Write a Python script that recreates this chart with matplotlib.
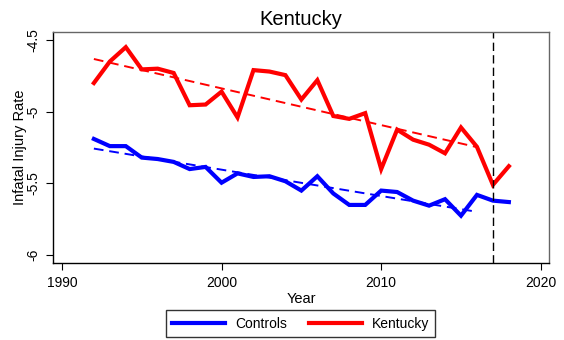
import numpy as np
import matplotlib
matplotlib.use('Agg')
import matplotlib.pyplot as plt

plt.rcParams['font.family'] = ['Liberation Sans', 'DejaVu Sans']

years = np.arange(1992, 2019)
kentucky = [-4.80, -4.65, -4.55, -4.705, -4.70, -4.73, -4.955, -4.95, -4.86,
            -5.04, -4.71, -4.72, -4.745, -4.915, -4.78, -5.03, -5.05, -5.01,
            -5.40, -5.125, -5.195, -5.23, -5.29, -5.11, -5.245, -5.51, -5.38]
controls = [-5.19, -5.24, -5.24, -5.32, -5.33, -5.35, -5.40, -5.385, -5.495,
            -5.43, -5.455, -5.45, -5.485, -5.55, -5.45, -5.57, -5.65, -5.65,
            -5.55, -5.56, -5.62, -5.655, -5.61, -5.725, -5.58, -5.62, -5.63]
treat_year = 2017

x_ticks = [1990, 2000, 2010, 2020]
y_ticks = [-6, -5.5, -5, -4.5]
y_tick_labels = ['-6', '-5.5', '-5', '-4.5']

# linear trend over the pre-treatment years
pre = years < treat_year
fit_years = years[pre]
k_fit = np.polyval(np.polyfit(fit_years, np.array(kentucky)[pre], 1), fit_years)
c_fit = np.polyval(np.polyfit(fit_years, np.array(controls)[pre], 1), fit_years)

fig = plt.figure(figsize=(5.64, 3.40), dpi=100)
ax = fig.add_axes([0.094, 0.226, 0.879, 0.68])

ax.plot(years, controls, color='#0000ff', lw=3, label='Controls', solid_joinstyle='miter')
ax.plot(years, kentucky, color='#ff0000', lw=3, label='Kentucky', solid_joinstyle='miter')
ax.plot(fit_years, c_fit, color='#0000ff', lw=1.4, ls=(0, (5, 3)))
ax.plot(fit_years, k_fit, color='#ff0000', lw=1.4, ls=(0, (5, 3)))
ax.axvline(treat_year, color='black', lw=1, ls=(0, (6, 3)))

ax.set_xlim(1989.44, 2020.5)
ax.set_ylim(-6.056, -4.444)
ax.set_xticks(x_ticks)
ax.set_yticks(y_ticks)
ax.set_yticklabels(y_tick_labels, rotation=90, va='center')
ax.tick_params(axis='both', direction='out', length=5, width=0.8, labelsize=10, color='black')
ax.tick_params(axis='x', pad=4)
ax.tick_params(axis='y', pad=4)

for side in ['left', 'bottom']:
    ax.spines[side].set_color('black')
    ax.spines[side].set_linewidth(1)
for side in ['top', 'right']:
    ax.spines[side].set_color('#666666')
    ax.spines[side].set_linewidth(1)

ax.set_title('Kentucky', fontsize=14.5, pad=5)
ax.set_xlabel('Year', fontsize=10.5, labelpad=2)
ax.set_ylabel('Infatal Injury Rate', fontsize=10.5, labelpad=0)

fig.legend(loc='lower center', bbox_to_anchor=(0.533, 0.009), ncol=2, frameon=True,
           fancybox=False, edgecolor='black', fontsize=10, handlelength=3.8,
           handletextpad=0.7, columnspacing=1.6, borderpad=0.45, borderaxespad=0)

fig.savefig('out.png', dpi=100)
